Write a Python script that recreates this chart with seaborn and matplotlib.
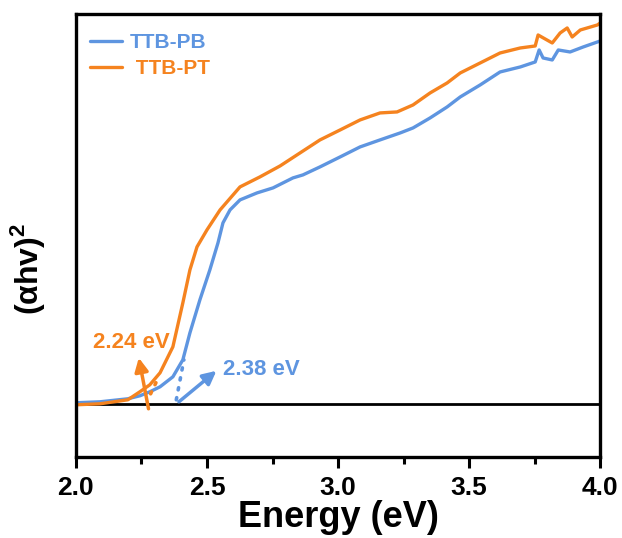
import numpy as np
import pandas as pd
import matplotlib
matplotlib.use("Agg")
import matplotlib.pyplot as plt
import seaborn as sns

# Tauc plot data: photon energy (eV) vs (alpha*h*nu)^2 (arb. units)
energy_pb = [2.000, 2.092, 2.198, 2.244, 2.282, 2.321, 2.370, 2.408, 2.435, 2.473,
             2.511, 2.542, 2.561, 2.588, 2.626, 2.691, 2.752, 2.828, 2.866, 2.931,
             3.008, 3.084, 3.160, 3.237, 3.286, 3.351, 3.416, 3.466, 3.542, 3.618,
             3.695, 3.752, 3.767, 3.782, 3.817, 3.840, 3.885, 3.935, 4.000]
tauc_pb = [0.01, 0.02, 0.05, 0.08, 0.12, 0.17, 0.27, 0.44, 0.71, 1.04,
           1.34, 1.61, 1.81, 1.94, 2.04, 2.11, 2.16, 2.26, 2.29, 2.37,
           2.47, 2.57, 2.64, 2.71, 2.76, 2.86, 2.97, 3.07, 3.19, 3.32,
           3.37, 3.42, 3.54, 3.46, 3.44, 3.54, 3.52, 3.57, 3.63]

energy_pt = [2.000, 2.092, 2.198, 2.244, 2.282, 2.321, 2.370, 2.408, 2.435, 2.462,
             2.500, 2.550, 2.626, 2.702, 2.779, 2.855, 2.931, 3.008, 3.084, 3.160,
             3.225, 3.286, 3.351, 3.416, 3.466, 3.542, 3.618, 3.695, 3.752, 3.763,
             3.817, 3.847, 3.874, 3.893, 3.924, 3.989, 4.000]
tauc_pt = [-0.01, 0.00, 0.04, 0.12, 0.19, 0.31, 0.57, 1.01, 1.34, 1.57,
           1.74, 1.94, 2.17, 2.27, 2.38, 2.51, 2.64, 2.74, 2.84, 2.91,
           2.92, 2.99, 3.11, 3.21, 3.31, 3.41, 3.51, 3.56, 3.58, 3.69,
           3.61, 3.71, 3.76, 3.67, 3.74, 3.79, 3.81]

series_names = ["TTB-PB", " TTB-PT"]
band_gaps = [2.38, 2.24]
colors = ["#5E95E0", "#F5831F"]

df = pd.concat([
    pd.DataFrame({"Energy": energy_pb, "Tauc": tauc_pb, "Sample": series_names[0]}),
    pd.DataFrame({"Energy": energy_pt, "Tauc": tauc_pt, "Sample": series_names[1]}),
])

sns.set_style("white")
plt.rcParams["font.family"] = ["Liberation Sans", "DejaVu Sans"]
plt.rcParams["font.weight"] = "bold"
plt.rcParams["text.color"] = "black"
plt.rcParams["axes.labelcolor"] = "black"
plt.rcParams["xtick.color"] = "black"
plt.rcParams["xtick.labelcolor"] = "black"
plt.rcParams["mathtext.fontset"] = "custom"
plt.rcParams["mathtext.rm"] = "Liberation Sans:bold"
plt.rcParams["mathtext.bf"] = "Liberation Sans:bold"

fig = plt.figure(figsize=(6.22, 5.38), dpi=100)
ax = fig.add_axes([0.122, 0.151, 0.843, 0.823])

sns.lineplot(data=df, x="Energy", y="Tauc", hue="Sample", palette=colors,
             sort=False, estimator=None, lw=2.4, ax=ax)

# baseline
ax.axhline(0, color="black", lw=2, zorder=1)

# linear extrapolations of the absorption edge
ax.plot([2.383, 2.412], [0.04, 0.44], ls=(0, (0.6, 2.2)), lw=2.6,
        color=colors[0], dash_capstyle="round")
ax.plot([2.285, 2.318], [0.10, 0.28], ls=(0, (0.6, 2.2)), lw=2.6,
        color=colors[1], dash_capstyle="round")

# arrows pointing to the band-gap labels
ax.annotate("", xy=(2.240, 0.46), xytext=(2.277, -0.05),
            arrowprops=dict(arrowstyle="-|>", color=colors[1], lw=2.5,
                            mutation_scale=20, shrinkA=0, shrinkB=0))
ax.annotate("", xy=(2.536, 0.33), xytext=(2.393, 0.02),
            arrowprops=dict(arrowstyle="-|>", color=colors[0], lw=2.5,
                            mutation_scale=20, shrinkA=0, shrinkB=0))

ax.text(2.21, 0.61, f"{band_gaps[1]:.2f} eV", color=colors[1], fontsize=16,
        fontweight="bold", ha="center", va="center")
ax.text(2.706, 0.34, f"{band_gaps[0]:.2f} eV", color=colors[0], fontsize=16,
        fontweight="bold", ha="center", va="center")

ax.set_xlim(2.0, 4.0)
ax.set_ylim(-0.53, 3.90)
ax.set_xticks([2.0, 2.5, 3.0, 3.5, 4.0])
ax.set_xticks([2.25, 2.75, 3.25, 3.75], minor=True)
ax.set_xticklabels(["2.0", "2.5", "3.0", "3.5", "4.0"])
ax.set_yticks([])
ax.tick_params(axis="x", which="major", direction="out", length=8, width=2.2,
               labelsize=19, pad=6, bottom=True, colors="black")
ax.tick_params(axis="x", which="minor", direction="out", length=5, width=2.2,
               bottom=True, colors="black")
for lab in ax.get_xticklabels():
    lab.set_fontweight("bold")
    lab.set_color("black")
for sp in ax.spines.values():
    sp.set_visible(True)
    sp.set_color("black")
    sp.set_linewidth(2.4)

ax.set_xlabel("Energy (eV)", fontsize=26, fontweight="bold", labelpad=0,
              color="black")
ax.set_ylabel("")
fig.text(0.045, 0.50, r"(αhv)$^{2}$", rotation=90, fontsize=23,
         fontweight="bold", ha="center", va="center", color="black")

leg = ax.legend(loc="upper left", frameon=False, fontsize=15, handlelength=1.5,
                handletextpad=0.4, borderaxespad=0.3, labelspacing=0.35,
                bbox_to_anchor=(0.0, 0.99))
for txt, c in zip(leg.get_texts(), colors):
    txt.set_color(c)
    txt.set_fontweight("bold")
for ln in leg.get_lines():
    ln.set_linewidth(2.4)

fig.savefig("out.png", dpi=100)
